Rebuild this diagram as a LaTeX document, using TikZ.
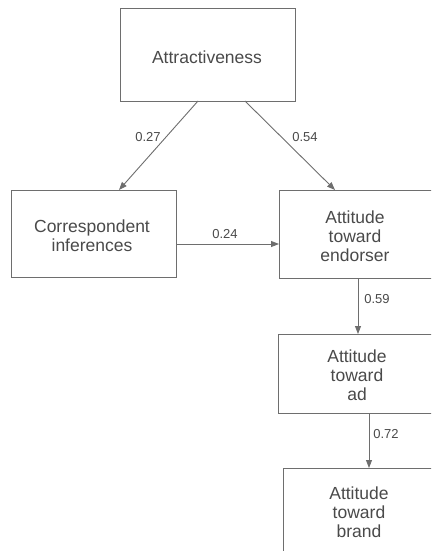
\documentclass[tikz,border=0pt]{standalone}
\usepackage{fontspec}
\setmainfont{Liberation Sans}
\usetikzlibrary{arrows.meta}
\definecolor{ln}{HTML}{6E6E6E}
\definecolor{tx}{HTML}{4A4A4A}
\tikzset{
  box/.style={draw=ln, line width=0.9pt, inner sep=0pt, outer sep=0pt},
  btext/.style={text=tx, font=\fontsize{17.5}{19}\selectfont, align=center, inner sep=0pt},
  lbl/.style={text=tx, font=\fontsize{13}{15}\selectfont, inner sep=0pt},
  arr/.style={draw=ln, line width=0.9pt, -{Triangle[length=8pt,width=6pt]}}
}
\begin{document}
\begin{tikzpicture}[x=1pt,y=-1pt]
\useasboundingbox (0,0) rectangle (431,551);
\clip (0,0) rectangle (431,551);
\fill[white] (0,0) rectangle (431,551);
% boxes
\node[box, minimum width=175pt, minimum height=93pt] (attrbox) at (207.5,54.5) {};
\node[box, minimum width=165pt, minimum height=87pt] (corrbox) at (93.5,233.5) {};
\node[box, minimum width=161pt, minimum height=88pt] (endobox) at (359.5,234) {};
\node[box, minimum width=162pt, minimum height=79pt] (adbox) at (359,373.5) {};
\node[box, minimum width=157pt, minimum height=92pt] (brandbox) at (361.5,514) {};
% texts
\node[btext] (attr) at (207,57) {Attractiveness};
\node[btext] (corr) at (92,236) {Correspondent\\inferences};
\node[btext] (endo) at (355,236) {Attitude\\toward\\endorser};
\node[btext] (ad) at (357,375) {Attitude\\toward\\ad};
\node[btext] (brand) at (359,512) {Attitude\\toward\\brand};
% arrows
\draw[arr] ([xshift=-9.5pt]attrbox.south) -- ([xshift=25.5pt]corrbox.north);
\draw[arr] ([xshift=37.5pt]attrbox.south) -- ([xshift=-24.5pt]endobox.north);
\draw[arr] ([yshift=-10.5pt]corrbox.east) -- ([yshift=-10pt]endobox.west);
\draw[arr] ([xshift=-1.5pt]endobox.south) -- ([xshift=-1pt]adbox.north);
\draw[arr] ([xshift=10pt]adbox.south) -- ([xshift=7.5pt]brandbox.north);
% labels
\node[lbl] (l1) at (148,137) {0.27};
\node[lbl] (l2) at (305,137) {0.54};
\node[lbl] (l3) at (225,234) {0.24};
\node[lbl] (l4) at (377,299) {0.59};
\node[lbl] (l5) at (386,434) {0.72};
\end{tikzpicture}
\end{document}
